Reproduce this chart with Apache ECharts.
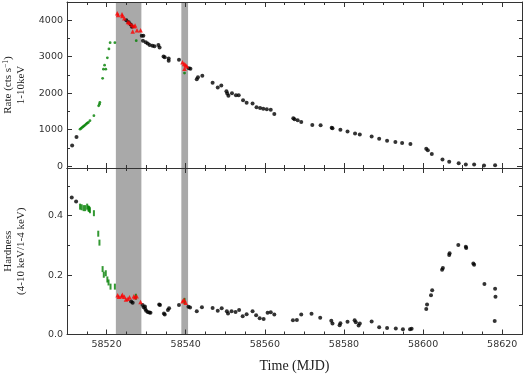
<!DOCTYPE html>
<html>
<head>
<meta charset="utf-8">
<script src="https://cdn.jsdelivr.net/npm/echarts@6/dist/echarts.min.js"></script>
<style>
  html, body { margin: 0; padding: 0; background: #fff; }
  #container { width: 525px; height: 376px; }
</style>
</head>
<body>
<div id="container"></div>
<script>
// axis ranges and ticks
var xMin = 58510, xMax = 58625;
var xMajor = [58520, 58540, 58560, 58580, 58600, 58620];
var rateMajor = [0, 1000, 2000, 3000, 4000];
var rateMinor = [500, 1500, 2500, 3500];
var hardMajor = [0, 0.2, 0.4];
var hardMinor = [0.1, 0.3, 0.5];
// shaded intervals (MJD)
var bands = [[58522.35, 58528.8], [58538.9, 58540.6]];

// rate, 1-10 keV
var rateBlack = [[58511.3,570],[58512.4,800],[58525.0,4000],[58525.6,3945],[58526.1,3880],[58526.4,3820],
  [58528.9,3574],[58529.3,3574],[58529.2,3440],[58529.9,3400],[58530.4,3360],[58530.9,3320],[58531.6,3300],[58532.1,3290],
  [58533.1,3320],[58533.4,3250],[58534.4,3004],[58534.7,2986],[58535.7,2950],[58535.7,2888],[58538.3,2914],
  [58540.8,2687],[58541.2,2670],[58542.8,2380],[58543.1,2434],[58544.2,2480],[58546.8,2290],[58548.1,2155],[58549.0,2209],
  [58550.3,2054],[58550.5,1990],[58550.8,1927],[58551.7,2000],[58552.7,1946],[58553.4,1946],[58554.5,1810],[58555.4,1737],
  [58556.9,1720],[58557.9,1612],[58558.8,1593],[58559.6,1575],[58560.5,1557],[58561.5,1547],[58562.4,1430],
  [58567.2,1313],[58567.5,1286],[58568.3,1259],[58569.2,1213],[58572.0,1132],[58574.1,1123],[58576.9,1050],[58577.1,1042],
  [58579.1,996],[58580.9,950],[58582.8,896],[58584.0,869],[58587.0,814],[58588.9,752],[58590.9,697],[58593.0,662],
  [58594.7,634],[58596.8,608],[58600.8,480],[58601.2,434],[58602.2,336],[58604.9,182],[58606.6,119],[58609.0,81],
  [58610.8,46],[58612.9,46],[58615.4,19],[58618.2,27]];
var rateRed = [[58522.7,4190],[58522.9,4144],[58523.9,4163],[58524.0,4117],[58524.5,4055],[58525.4,3954],[58525.8,3927],
  [58526.4,3873],[58526.9,3837],[58527.2,3855],[58526.6,3691],[58527.7,3729],[58528.6,3729],
  [58539.2,2850],[58539.6,2800],[58540.0,2770],[58540.3,2741],[58539.7,2670]];
var rateGreen = [[58513.3,1015],[58513.6,1040],[58513.9,1070],[58514.2,1095],[58514.5,1120],[58514.8,1150],[58515.1,1180],
  [58515.4,1200],[58515.8,1248],[58516.8,1384],[58518.0,1655],[58518.2,1700],[58518.3,1748],[58519.0,2407],[58519.2,2660],
  [58519.5,2768],[58519.8,2660],[58520.2,2969],[58520.6,3213],[58520.9,3384],[58522.1,3384],[58527.5,3439],[58539.7,2551]];

// hardness, (4-10 keV)/(1-4 keV)
var hardBlack = [[58511.2,0.461],[58512.3,0.447],[58526.2,0.111],[58526.6,0.107],[58529.1,0.099],[58529.4,0.092],[58529.7,0.094],
  [58529.8,0.086],[58530.0,0.080],[58530.4,0.076],[58530.8,0.074],[58531.1,0.073],[58533.3,0.101],[58533.5,0.099],
  [58534.5,0.071],[58534.7,0.067],[58535.5,0.082],[58535.8,0.088],[58538.3,0.099],[58540.7,0.093],[58541.1,0.091],
  [58542.8,0.078],[58544.1,0.092],[58546.8,0.089],[58548.1,0.080],[58549.1,0.088],[58550.4,0.078],[58550.7,0.071],
  [58551.6,0.078],[58552.6,0.076],[58553.5,0.082],[58554.4,0.061],[58555.4,0.068],[58556.9,0.078],[58557.8,0.065],
  [58558.7,0.055],[58559.7,0.052],[58560.7,0.073],[58561.5,0.075],[58562.4,0.067],[58567.1,0.048],[58568.1,0.049],
  [58569.2,0.067],[58571.8,0.070],[58574.0,0.056],[58576.8,0.046],[58577.1,0.037],[58578.9,0.031],[58579.1,0.038],
  [58580.9,0.043],[58582.7,0.048],[58583.0,0.041],[58583.7,0.030],[58584.0,0.037],[58587.0,0.044],[58588.9,0.024],
  [58590.9,0.022],[58593.1,0.020],[58594.9,0.018],[58596.7,0.018],[58597.1,0.019],[58600.8,0.086],[58601.0,0.101],
  [58602.0,0.132],[58602.3,0.149],[58604.8,0.218],[58605.0,0.224],[58606.6,0.267],[58606.7,0.273],[58608.9,0.301],
  [58610.8,0.295],[58610.9,0.291],[58612.7,0.239],[58612.9,0.235],[58615.5,0.170],[58618.2,0.154],[58618.3,0.127],
  [58618.1,0.045]];
var hardRed = [[58522.8,0.132],[58523.1,0.127],[58523.8,0.129],[58524.0,0.134],[58524.5,0.127],[58524.9,0.118],
  [58525.4,0.120],[58525.8,0.125],[58526.9,0.129],[58527.2,0.125],[58527.6,0.129],[58528.6,0.109],
  [58539.2,0.112],[58539.6,0.117],[58540.0,0.107]];
var hardGreen = [[58513.3,0.430],[58513.7,0.428],[58514.2,0.425],[58514.6,0.425],[58515.1,0.430],[58515.4,0.424],
  [58515.6,0.422],[58515.8,0.418],[58516.8,0.408],[58517.9,0.339],[58518.2,0.309],[58519.0,0.220],[58519.3,0.201],
  [58519.8,0.206],[58520.2,0.185],[58520.5,0.175],[58521.0,0.161],[58522.1,0.161],[58527.4,0.127],[58539.7,0.113]];

var dom = document.getElementById('container');
var myChart = echarts.init(dom, null, { renderer: 'canvas' });

var frameColor = '#333';
var labelStyle = { color: '#333', fontFamily: 'DejaVu Sans', fontSize: 9.5 };
var serif = 'Liberation Serif';

// one x axis: major ticks (custom) or minor ticks (every 5 MJD)
function xAxisOf(grid, pos, major, labels) {
    var ax = {
        type: 'value', gridIndex: grid, position: pos, min: xMin, max: xMax, z: 5,
        splitLine: { show: false },
        axisLine: { show: major, onZero: false, lineStyle: { color: frameColor, width: 1 } },
        axisTick: { show: true, inside: true, length: major ? 5 : 3, lineStyle: { color: frameColor } },
        axisLabel: { show: false }
    };
    if (major) {
        ax.axisTick.customValues = xMajor;
        ax.axisLabel = { show: labels, customValues: xMajor, margin: 5,
            formatter: function (v) { return String(v); } };
        Object.assign(ax.axisLabel, labelStyle);
    } else {
        ax.interval = 5;
    }
    return ax;
}

function yAxisOf(grid, pos, min, max, majorVals, minorVals, major, labels, fmt) {
    var ax = {
        type: 'value', gridIndex: grid, position: pos, min: min, max: max, z: 5,
        splitLine: { show: false },
        axisLine: { show: major, onZero: false, lineStyle: { color: frameColor, width: 1 } },
        axisTick: { show: true, inside: true, length: major ? 5 : 3,
            customValues: major ? majorVals : minorVals, lineStyle: { color: frameColor } },
        axisLabel: { show: false }
    };
    if (major && labels) {
        ax.axisLabel = { show: true, customValues: majorVals, margin: 4, formatter: fmt };
        Object.assign(ax.axisLabel, labelStyle);
    }
    return ax;
}

var xAxes = [], yAxes = [];
[0, 1].forEach(function (g) {
    xAxes.push(xAxisOf(g, 'bottom', true, g === 1));
    xAxes.push(xAxisOf(g, 'bottom', false, false));
    xAxes.push(xAxisOf(g, 'top', true, false));
    xAxes.push(xAxisOf(g, 'top', false, false));
});
var rateFmt = function (v) { return String(v); };
var hardFmt = function (v) { return v.toFixed(1); };
yAxes.push(yAxisOf(0, 'left', -50, 4500, rateMajor, rateMinor, true, true, rateFmt));
yAxes.push(yAxisOf(0, 'left', -50, 4500, rateMajor, rateMinor, false, false));
yAxes.push(yAxisOf(0, 'right', -50, 4500, rateMajor, rateMinor, true, false));
yAxes.push(yAxisOf(0, 'right', -50, 4500, rateMajor, rateMinor, false, false));
yAxes.push(yAxisOf(1, 'left', 0, 0.56, hardMajor, hardMinor, true, true, hardFmt));
yAxes.push(yAxisOf(1, 'left', 0, 0.56, hardMajor, hardMinor, false, false));
yAxes.push(yAxisOf(1, 'right', 0, 0.56, hardMajor, hardMinor, true, false));
yAxes.push(yAxisOf(1, 'right', 0, 0.56, hardMajor, hardMinor, false, false));

var nameRich = {
    t: { fontFamily: serif, fontSize: 11, lineHeight: 13, color: '#222' },
    s: { fontFamily: serif, fontSize: 7.5, lineHeight: 13, color: '#222', verticalAlign: 'top', padding: [0, 0, 5, 0] }
};
yAxes[0].name = '{t|Rate (cts s}{s|−1}{t|)}\n{t|1-10keV}';
yAxes[4].name = '{t|Hardness}\n{t|(4-10 keV/1-4 keV)}';
[0, 4].forEach(function (i) {
    yAxes[i].nameLocation = 'middle';
    yAxes[i].nameRotate = 90;
    yAxes[i].nameGap = 39;
    yAxes[i].nameTextStyle = { rich: nameRich };
});
xAxes[4].name = 'Time (MJD)';
xAxes[4].nameLocation = 'middle';
xAxes[4].nameGap = 25;
xAxes[4].nameTextStyle = { fontFamily: serif, fontSize: 14, color: '#222' };

function bandSeries(g) {
    return {
        type: 'scatter', xAxisIndex: g * 4, yAxisIndex: g * 4, data: [], z: 1, silent: true,
        markArea: {
            silent: true,
            itemStyle: { color: '#a9a9a9', opacity: 1 },
            data: bands.map(function (b) { return [{ xAxis: b[0] }, { xAxis: b[1] }]; })
        }
    };
}

function pts(g, data, color, symbol, size) {
    return {
        type: 'scatter', xAxisIndex: g * 4, yAxisIndex: g * 4, data: data, z: 3,
        symbol: symbol, symbolSize: size, itemStyle: { color: color }
    };
}

option = {
    animation: false,
    backgroundColor: '#fff',
    grid: [
        { left: 67, right: 3, top: 2, height: 166, outerBoundsMode: 'none', containLabel: false },
        { left: 67, right: 3, top: 168, height: 166.5, outerBoundsMode: 'none', containLabel: false }
    ],
    xAxis: xAxes,
    yAxis: yAxes,
    series: [
        bandSeries(0),
        bandSeries(1),
        pts(0, rateGreen, '#008000', 'circle', 2.8),
        pts(0, rateBlack, '#000', 'circle', 4),
        pts(0, rateRed, '#ff0000', 'triangle', 4.5),
        pts(1, hardGreen, '#008000', 'rect', [2, 6]),
        pts(1, hardBlack, '#000', 'circle', 4),
        pts(1, hardRed, '#ff0000', 'triangle', 4.5)
    ]
};

myChart.setOption(option);
window.addEventListener('resize', myChart.resize);
</script>
</body>
</html>
